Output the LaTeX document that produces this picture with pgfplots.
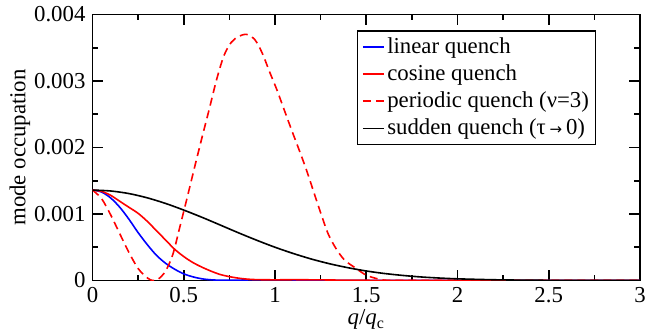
\documentclass[border=0pt]{standalone}
\usepackage{fontspec}
\setmainfont{Liberation Serif}
\newfontfamily\djv{DejaVu Sans}
\usepackage{pgfplots}
\pgfplotsset{compat=1.18}
\begin{document}
\begin{tikzpicture}
\begin{axis}[
  scale only axis, width=273.75pt, height=133pt,
  at={(0,0)}, anchor=south west,
  xmin=0, xmax=3, ymin=0, ymax=4,
  xtick={0,0.5,1,1.5,2,2.5,3}, xticklabels={0,0.5,1,1.5,2,2.5,3},
  ytick={0,1,2,3,4}, yticklabels={0,0.001,0.002,0.003,0.004},
  minor x tick num=1, minor y tick num=1,
  tick align=inside, major tick length=5.3pt, minor tick length=2.8pt,
  every tick/.style={black, line width=0.8pt},
  axis line style={line width=0.8pt},
  font=\fontsize{11.4}{13.4}\selectfont,
  /pgf/number format/assume math mode=true,
  xlabel={\itshape q\upshape/\itshape q\upshape\textsubscript{c}},
  xlabel style={at={(axis description cs:0.5,0)}, anchor=base, yshift=-22.25pt},
  ylabel={mode occupation},
  ylabel style={at={(axis description cs:-0.1324,0.5)}, anchor=center},
  legend style={at={(axis description cs:0.9196,0.9402)}, anchor=north east,
    draw=black, line width=0.6pt, inner sep=2.2pt, row sep=2.2pt,
    nodes={inner sep=1pt, anchor=west}, font=\fontsize{11.4}{13.4}\selectfont},
  legend cell align=left,
  legend image code/.code={\draw[#1] (0pt,0pt) -- (10.8pt,0pt);},
]
\addplot[blue, smooth, line width=0.8pt] coordinates {
(0,1.36) (0.05,1.33) (0.1,1.24) (0.15,1.10) (0.2,0.92) (0.25,0.72) (0.3,0.54)
(0.35,0.38) (0.4,0.26) (0.45,0.17) (0.5,0.10) (0.55,0.055) (0.6,0.025) (0.65,0.01)
(0.7,0.005) (0.8,0.006) (0.9,0.01) (1.0,0.01) (1.1,0.008) (1.3,0.003) (1.5,0.001) (2,0) (3,0)};
\addlegendentry{linear quench}
\addplot[red, smooth, line width=0.8pt] coordinates {
(0,1.36) (0.05,1.34) (0.1,1.28) (0.15,1.19) (0.2,1.10) (0.25,1.01) (0.3,0.89)
(0.35,0.75) (0.4,0.61) (0.45,0.47) (0.5,0.36) (0.55,0.27) (0.6,0.20) (0.65,0.14)
(0.7,0.09) (0.75,0.058) (0.8,0.035) (0.85,0.02) (0.9,0.013) (1.0,0.01) (1.1,0.012)
(1.2,0.01) (1.4,0.005) (1.6,0.002) (2,0.001) (3,0)};
\addlegendentry{cosine quench}
\addplot[red, smooth, line width=0.8pt, dash pattern=on 4pt off 2.5pt] coordinates {
(0,1.36) (0.05,1.23) (0.1,0.985) (0.15,0.70) (0.2,0.42) (0.25,0.18) (0.3,0.04)
(0.33,0.0) (0.36,0.02) (0.4,0.14) (0.44,0.39) (0.48,0.82) (0.52,1.26) (0.56,1.71)
(0.6,2.15) (0.64,2.58) (0.68,3.02) (0.72,3.38) (0.76,3.58) (0.8,3.67) (0.845,3.70)
(0.89,3.62) (0.93,3.42) (0.97,3.14) (1.01,2.87) (1.05,2.57) (1.09,2.27) (1.13,1.98)
(1.17,1.68) (1.21,1.35) (1.25,1.02) (1.29,0.71) (1.33,0.50) (1.38,0.31) (1.44,0.19)
(1.5,0.08) (1.57,0.02) (1.63,0.0) (1.8,0.002) (2,0.001) (3,0)};
\addlegendentry{periodic quench (ν=3)}
\addplot[black, smooth, line width=0.8pt] coordinates {
(0,1.360) (0.1,1.346) (0.2,1.307) (0.3,1.243) (0.4,1.159) (0.5,1.059) (0.6,0.950)
(0.7,0.834) (0.8,0.717) (0.9,0.605) (1.0,0.500) (1.1,0.406) (1.2,0.322) (1.3,0.251)
(1.4,0.192) (1.5,0.143) (1.6,0.105) (1.7,0.076) (1.8,0.053) (1.9,0.037) (2.0,0.025)
(2.2,0.011) (2.4,0.004) (2.6,0.0016) (2.8,0.0005) (3.0,0.0002)};
\addlegendentry{sudden quench (τ\,{\djv\fontsize{7.5}{8}\selectfont\raisebox{0.3pt}{→}}\,0)}
\end{axis}
\pgfresetboundingbox
\useasboundingbox (-46.25pt,-27.25pt) rectangle (276.25pt,140.25pt);
\end{tikzpicture}
\end{document}
